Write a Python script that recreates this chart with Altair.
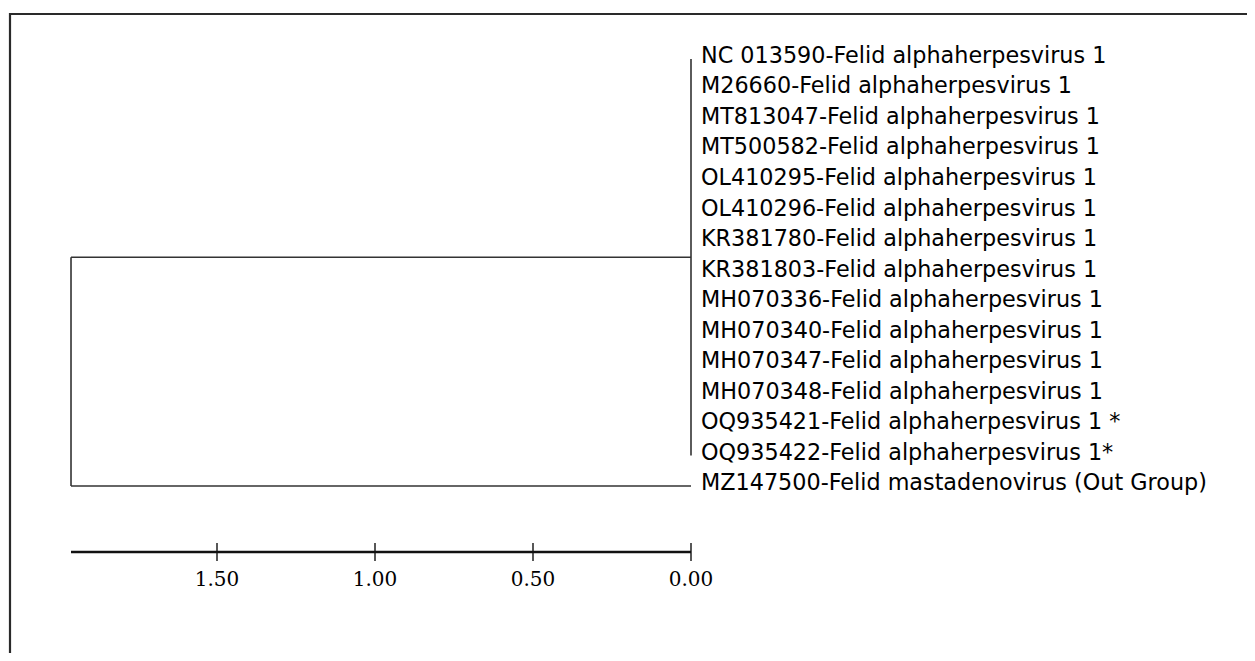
import altair as alt
import pandas as pd

# ---- data -------------------------------------------------------------
tip_labels = [
    "NC 013590-Felid alphaherpesvirus 1",
    "M26660-Felid alphaherpesvirus 1",
    "MT813047-Felid alphaherpesvirus 1",
    "MT500582-Felid alphaherpesvirus 1",
    "OL410295-Felid alphaherpesvirus 1",
    "OL410296-Felid alphaherpesvirus 1",
    "KR381780-Felid alphaherpesvirus 1",
    "KR381803-Felid alphaherpesvirus 1",
    "MH070336-Felid alphaherpesvirus 1",
    "MH070340-Felid alphaherpesvirus 1",
    "MH070347-Felid alphaherpesvirus 1",
    "MH070348-Felid alphaherpesvirus 1",
    "OQ935421-Felid alphaherpesvirus 1 *",
    "OQ935422-Felid alphaherpesvirus 1*",
    "MZ147500-Felid mastadenovirus (Out Group)",
]
tip_depth = [0.0] * 15          # distance of each tip from the tip line
clade_depth = 0.0               # in-group node (identical sequences)
root_depth = 1.962              # root node distance
scale_ticks = [0.0, 0.5, 1.0, 1.5]

# ---- derived tables ---------------------------------------------------
n_in = 14
rows = list(range(len(tip_labels)))
clade_y = (0 + (n_in - 1)) / 2
out_y = n_in

segments = pd.DataFrame([
    {"d1": root_depth, "d2": root_depth, "y1": clade_y, "y2": out_y},
    {"d1": root_depth, "d2": clade_depth, "y1": clade_y, "y2": clade_y},
    {"d1": root_depth, "d2": tip_depth[-1], "y1": out_y, "y2": out_y},
    {"d1": clade_depth, "d2": clade_depth, "y1": 0, "y2": n_in - 1},
])
tips = pd.DataFrame({"label": tip_labels, "d": tip_depth, "y": rows})
bar = pd.DataFrame({"d1": [root_depth], "d2": [0.0]})
ticks = pd.DataFrame({"d": scale_ticks})

W, H = 1239, 645
xs = alt.Scale(domain=[-1.7595, 2.1614], reverse=True, nice=False, zero=False)
ys = alt.Scale(domain=[-1.672, 19.475], reverse=True, nice=False, zero=False)

LINE = "#333333"

branches = alt.Chart(segments).mark_rule(color=LINE, strokeWidth=1.6).encode(
    x=alt.X("d1:Q", scale=xs, axis=None),
    x2="d2:Q",
    y=alt.Y("y1:Q", scale=ys, axis=None),
    y2="y2:Q",
)

labels = alt.Chart(tips).mark_text(
    align="left", baseline="middle", dx=10, dy=-3,
    font="DejaVu Sans", fontSize=22.3, color="#000000",
).encode(
    x=alt.X("d:Q", scale=xs, axis=None),
    y=alt.Y("y:Q", scale=ys, axis=None),
    text="label:N",
)

bar_line = alt.Chart(bar).mark_rule(color="#111111", strokeWidth=2.6).encode(
    x=alt.X("d1:Q", scale=xs, axis=None),
    x2="d2:Q",
    y=alt.value(544),
)

bar_ticks = alt.Chart(ticks).mark_tick(
    orient="vertical", color="#111111", thickness=2, size=18
).encode(
    x=alt.X("d:Q", scale=xs, axis=None),
    y=alt.value(544),
)

bar_labels = alt.Chart(ticks).mark_text(
    align="center", baseline="alphabetic",
    font="DejaVu Serif", fontSize=20, color="#000000",
).encode(
    x=alt.X("d:Q", scale=xs, axis=None),
    y=alt.value(578),
    text=alt.Text("d:Q", format=".2f"),
)

frame_top = alt.Chart(bar).mark_rule(color="#2a2a2a", strokeWidth=2.2).encode(
    x=alt.value(1), x2=alt.value(W + 10), y=alt.value(6),
)
frame_left = alt.Chart(bar).mark_rule(color="#2a2a2a", strokeWidth=2.2).encode(
    x=alt.value(2), y=alt.value(5), y2=alt.value(H + 10),
)

chart = alt.layer(
    frame_top, frame_left, branches, labels, bar_line, bar_ticks, bar_labels
).properties(
    width=W, height=H,
    autosize=alt.AutoSizeParams(type="none"),
    padding=0,
).configure_view(stroke=None)

chart.save("out.html", embed_options={"renderer": "svg", "actions": False})
